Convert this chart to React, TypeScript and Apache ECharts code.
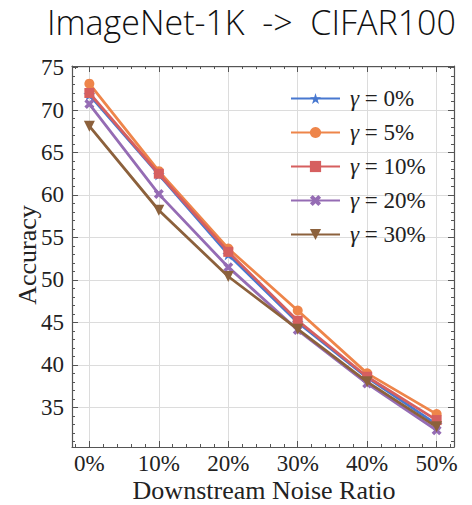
import React, { useEffect, useRef } from "react";
import * as echarts from "echarts";

const noiseRatios = [0, 10, 20, 30, 40, 50];
const gammaLabels = ["0%", "5%", "10%", "20%", "30%"];
const acc0 = [71.8, 62.4, 53.0, 45.0, 38.5, 33.0];
const acc5 = [73.1, 62.8, 53.7, 46.4, 39.0, 34.2];
const acc10 = [72.0, 62.5, 53.3, 45.2, 38.6, 33.5];
const acc20 = [70.7, 60.1, 51.5, 44.1, 37.8, 32.3];
const acc30 = [68.1, 58.2, 50.4, 44.2, 38.0, 32.7];
const xTicks = [0, 10, 20, 30, 40, 50];
const yTicks = [35, 40, 45, 50, 55, 60, 65, 70, 75];

const colors = ["#4878D0", "#EE854A", "#D65F5F", "#956CB4", "#8C613C"];
const STAR =
  "path://M0,-1L0.2245,-0.309L0.951,-0.309L0.363,0.118L0.588,0.809L0,0.382L-0.588,0.809L-0.363,0.118L-0.951,-0.309L-0.2245,-0.309Z";
const XMARK =
  "path://M-1,-0.5L-0.5,-1L0,-0.5L0.5,-1L1,-0.5L0.5,0L1,0.5L0.5,1L0,0.5L-0.5,1L-1,0.5L-0.5,0Z";
const symbols = [STAR, "circle", "rect", XMARK, "triangle"];
const symbolRot = [0, 0, 0, 0, 180];
const symbolSizes = [12, 10, 10, 10, 11];

const X_MIN = -2.5, X_MAX = 52.5, Y_MIN = 30.33, Y_MAX = 75.18;
const xMinor: number[] = [];
for (let v = -2; v <= 52; v += 2) if (v % 10 !== 0) xMinor.push(v);
const yMinor: number[] = [];
for (let v = 31; v <= 75; v += 1) if (v % 5 !== 0) yMinor.push(v);

const SERIF = "Liberation Serif";
const frame = "#555555";

export default function App() {
  const ref = useRef<HTMLDivElement>(null);
  useEffect(() => {
    document.body.style.margin = "0";
    const chart = echarts.init(ref.current!, null, { renderer: "svg" });
    const datasets = [acc0, acc5, acc10, acc20, acc30];

    const mkX = (pos: string, ticks: number[], len: number, labels: boolean, grid: boolean, line: boolean) => ({
      type: "value",
      position: pos,
      min: X_MIN,
      max: X_MAX,
      axisLine: { show: line, onZero: false, lineStyle: { color: frame, width: 1.2 } },
      axisTick: { show: true, inside: true, length: len, customValues: ticks, lineStyle: { color: frame, width: 1 } },
      axisLabel: {
        show: labels,
        customValues: ticks,
        formatter: (v: number) => `${v}%`,
        fontFamily: SERIF,
        fontSize: 23,
        color: "#222",
        margin: 5,
      },
      splitLine: { show: grid, lineStyle: { color: "#dcdcdc", width: 1 } },
    });
    const mkY = (pos: string, ticks: number[], len: number, labels: boolean, grid: boolean, line: boolean) => ({
      type: "value",
      position: pos,
      min: Y_MIN,
      max: Y_MAX,
      axisLine: { show: line, onZero: false, lineStyle: { color: frame, width: 1.2 } },
      axisTick: { show: true, inside: true, length: len, customValues: ticks, lineStyle: { color: frame, width: 1 } },
      axisLabel: {
        show: labels,
        customValues: ticks,
        fontFamily: SERIF,
        fontSize: 23,
        color: "#222",
        margin: 8,
      },
      splitLine: { show: grid, lineStyle: { color: "#dcdcdc", width: 1 } },
    });

    const xAxes: any[] = [
      mkX("bottom", xTicks, 6, true, true, true),
      mkX("bottom", xMinor, 3, false, false, false),
      mkX("top", xTicks, 6, false, false, true),
      mkX("top", xMinor, 3, false, false, false),
    ];
    const yAxes: any[] = [
      mkY("left", yTicks, 6, true, true, true),
      mkY("left", yMinor, 3, false, false, false),
      mkY("right", yTicks, 6, false, false, true),
      mkY("right", yMinor, 3, false, false, false),
    ];

    chart.setOption({
      animation: false,
      backgroundColor: "#ffffff",
      title: {
        text: "ImageNet-1K  ->  CIFAR100",
        left: 42,
        top: 0,
        textStyle: { fontFamily: "Open Sans", fontWeight: 300, fontSize: 34, color: "#111" },
      },
      grid: { left: 72, right: 18, top: 66, bottom: 58, containLabel: false },
      xAxis: xAxes,
      yAxis: yAxes,
      legend: {
        orient: "vertical",
        left: 285,
        top: 82,
        itemWidth: 49,
        itemHeight: 14,
        itemGap: 11,
        data: gammaLabels.map((g) => `γ = ${g}`),
        formatter: (name: string) => `{g|γ}{t|${name.slice(1)}}`,
        textStyle: {
          fontFamily: SERIF,
          fontSize: 23,
          color: "#222",
          padding: [0, 0, 0, 5],
          rich: {
            g: { fontFamily: SERIF, fontStyle: "italic", fontSize: 23, color: "#222" },
            t: { fontFamily: SERIF, fontSize: 23, color: "#222" },
          },
        },
      },
      graphic: [
        {
          type: "text",
          rotation: Math.PI / 2,
          x: 27,
          y: 255,
          style: {
            text: "Accuracy",
            fontFamily: SERIF,
            fontSize: 26,
            fill: "#222",
            align: "center",
            verticalAlign: "middle",
          },
        },
        {
          type: "text",
          x: 264,
          y: 490,
          style: {
            text: "Downstream Noise Ratio",
            fontFamily: SERIF,
            fontSize: 26,
            fill: "#222",
            align: "center",
            verticalAlign: "middle",
          },
        },
      ],
      series: datasets.map((d, i) => ({
        name: `γ = ${gammaLabels[i]}`,
        type: "line",
        xAxisIndex: 0,
        yAxisIndex: 0,
        data: d.map((v, j) => [noiseRatios[j], v]),
        symbol: symbols[i],
        symbolSize: symbolSizes[i],
        symbolRotate: symbolRot[i],
        showAllSymbol: true,
        color: colors[i],
        lineStyle: { width: 2.8, color: colors[i] },
        itemStyle: { color: colors[i] },
        z: 2 + i,
      })),
    });
    return () => chart.dispose();
  }, []);
  return <div ref={ref} style={{ width: 472, height: 505 }} />;
}
